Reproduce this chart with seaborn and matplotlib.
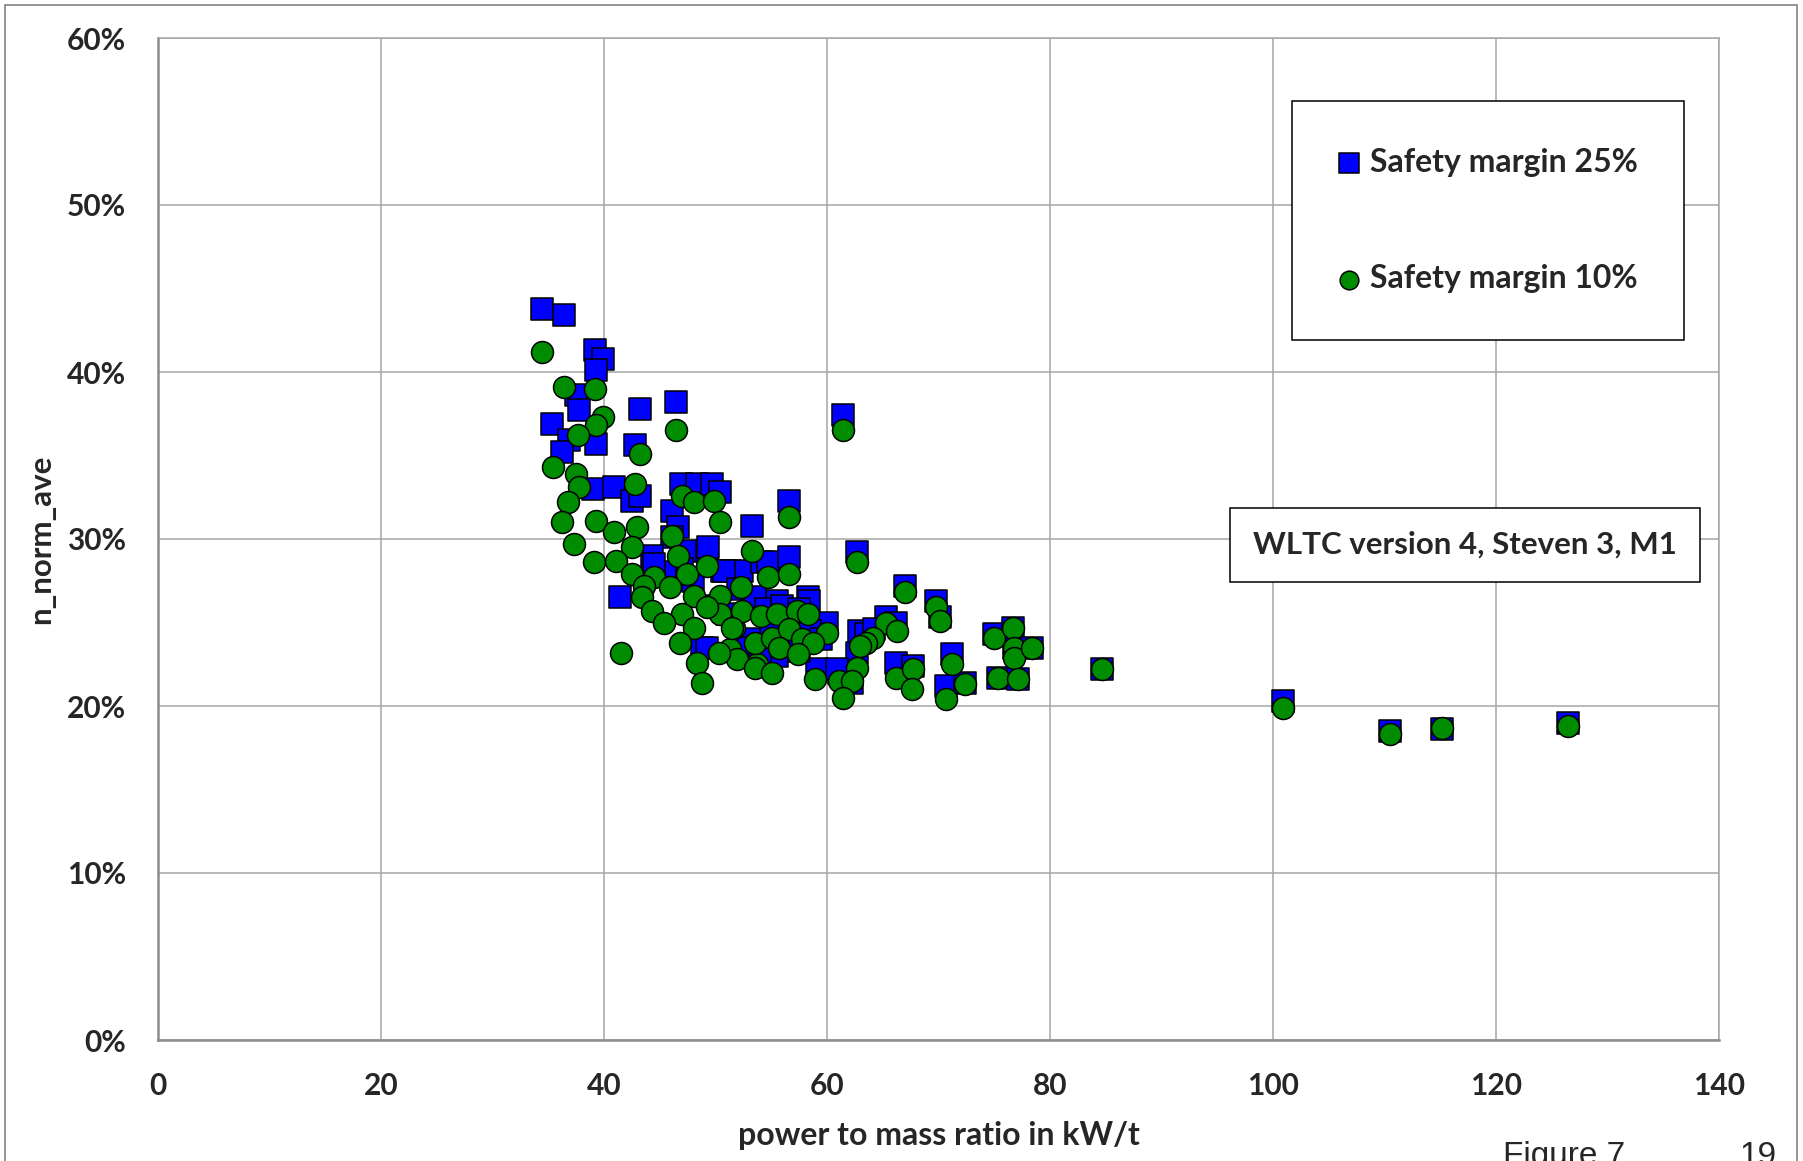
import matplotlib
matplotlib.use("Agg")
import matplotlib.pyplot as plt
import numpy as np
import pandas as pd
import seaborn as sns
from matplotlib.ticker import MultipleLocator, FuncFormatter
from matplotlib.patches import Rectangle

# ---------------- data ----------------
# Safety margin 25% (blue squares): power to mass ratio [kW/t], n_norm_ave [%]
x25 = [34.4, 36.4, 39.2, 39.9, 39.3, 37.5, 37.8, 35.3, 36.9, 36.2, 39.3, 43.2, 46.5, 42.8,
       39.0, 40.9, 42.5, 43.2, 46.9, 48.3, 49.7, 50.4, 46.1, 46.6, 53.3, 46.1, 44.3, 47.4,
       49.2, 51.3, 52.4, 41.4, 54.2, 48.8, 50.6, 56.6, 49.3, 54.7, 56.6, 50.8, 58.3, 60.0,
       55.5, 49.2, 59.1, 61.1, 61.4, 62.7, 67.0, 69.8, 70.1, 65.3, 66.2, 62.9, 58.4, 62.7,
       62.2, 60.9, 66.2, 67.7, 71.2, 70.7, 72.4, 75.0, 76.7, 76.8, 78.4, 75.3, 77.1, 84.7,
       100.9, 110.5, 115.2, 126.5,
       52.0, 53.5, 54.5, 56.0, 57.5, 55.0, 57.0, 53.0, 51.0, 48.0, 47.0, 45.5, 44.5, 50.0,
       52.5, 55.5, 57.5, 54.0, 58.5, 59.5, 63.5, 64.2]
y25 = [43.8, 43.4, 41.3, 40.8, 40.1, 38.6, 37.7, 36.9, 35.9, 35.2, 35.7, 37.8, 38.2, 35.6,
       33.0, 33.1, 32.3, 32.6, 33.3, 33.3, 33.3, 32.8, 31.7, 30.7, 30.8, 30.1, 29.0, 29.3,
       29.3, 28.1, 28.1, 26.5, 28.6, 23.5, 28.1, 32.3, 29.5, 28.6, 28.9, 28.1, 26.5, 25.0,
       26.3, 23.5, 22.2, 22.0, 37.4, 29.2, 27.2, 26.3, 25.3, 25.3, 25.0, 24.5, 26.3, 23.2,
       21.4, 22.2, 22.6, 22.4, 23.1, 21.2, 21.4, 24.3, 24.7, 23.5, 23.5, 21.7, 21.6, 22.2,
       20.3, 18.5, 18.6, 19.0,
       27.0, 26.5, 25.8, 26.0, 25.8, 24.5, 24.0, 24.0, 25.5, 27.5, 28.2, 28.0, 28.5, 26.0,
       23.5, 23.0, 23.3, 22.8, 24.5, 24.0, 24.3, 24.6]

# Safety margin 10% (green circles)
x10 = [34.4, 36.4, 39.2, 39.9, 39.3, 37.7, 43.2, 46.5, 35.4, 37.5, 37.8, 42.8, 36.8, 47.0,
       48.1, 49.9, 50.4, 39.3, 40.9, 43.0, 46.1, 42.5, 53.3, 39.1, 41.1, 46.6, 42.5, 47.4,
       49.2, 44.5, 45.9, 43.6, 43.4, 48.1, 50.4, 52.3, 44.3, 47.0, 45.4, 48.1, 50.4, 51.7,
       46.8, 48.3, 48.8, 41.5, 53.7, 51.3, 56.6, 54.7, 56.6, 49.2, 52.4, 54.1, 55.5, 57.3,
       58.3, 60.0, 51.5, 53.5, 55.1, 56.6, 57.8, 58.7, 55.7, 57.4, 51.9, 53.5, 55.1, 58.9,
       61.1, 61.4, 62.7, 67.0, 69.8, 70.1, 65.3, 66.3, 64.1, 63.5, 63.0, 62.7, 62.2, 61.4,
       66.2, 67.7, 67.6, 71.2, 70.7, 72.4, 75.0, 76.7, 76.8, 76.8, 78.4, 75.3, 77.1, 84.7,
       100.9, 110.5, 115.2, 126.5, 36.2, 37.3, 50.3]
y10 = [41.2, 39.1, 39.0, 37.3, 36.8, 36.2, 35.1, 36.5, 34.3, 33.9, 33.1, 33.3, 32.2, 32.6,
       32.2, 32.3, 31.0, 31.1, 30.4, 30.7, 30.2, 29.5, 29.3, 28.6, 28.7, 29.0, 27.9, 27.9,
       28.4, 27.7, 27.1, 27.2, 26.5, 26.6, 26.6, 27.1, 25.7, 25.5, 25.0, 24.7, 25.5, 24.7,
       23.8, 22.6, 21.4, 23.2, 22.5, 23.4, 31.3, 27.7, 27.9, 25.9, 25.7, 25.4, 25.5, 25.7,
       25.5, 24.4, 24.7, 23.8, 24.1, 24.6, 24.0, 23.8, 23.5, 23.1, 22.8, 22.3, 22.0, 21.6,
       21.5, 36.5, 28.6, 26.8, 25.9, 25.1, 25.0, 24.5, 24.1, 23.8, 23.6, 22.3, 21.5, 20.5,
       21.7, 22.2, 21.0, 22.5, 20.4, 21.3, 24.1, 24.7, 23.5, 22.9, 23.5, 21.7, 21.6, 22.2,
       19.9, 18.3, 18.7, 18.8, 31.0, 29.7, 23.2]

series_labels = ["Safety margin 25%", "Safety margin 10%"]
x_ticks = [0, 20, 40, 60, 80, 100, 120, 140]
y_ticks = [0, 10, 20, 30, 40, 50, 60]
x_title = "power to mass ratio in kW/t"
y_title = "n_norm_ave"
note_text = "WLTC version 4, Steven 3, M1"

# ---------------- style ----------------
sns.set_style("white")
plt.rcParams["font.family"] = ["Lato", "DejaVu Sans"]

W, H = 1803, 1161
fig = plt.figure(figsize=(W / 100, H / 100), dpi=100)
fig.patch.set_facecolor("white")
ax = fig.add_axes([158 / W, 1 - 1040 / H, (1719 - 158) / W, (1040 - 38) / H])

df25 = pd.DataFrame({"x": x25, "y": y25})
df10 = pd.DataFrame({"x": x10, "y": y10})

sns.scatterplot(data=df25, x="x", y="y", marker="s", s=260, color="#0000FF",
                edgecolor="black", linewidth=1.1, label=series_labels[0], ax=ax, zorder=3)
sns.scatterplot(data=df10, x="x", y="y", marker="o", s=250, color="#008C00",
                edgecolor="black", linewidth=1.1, label=series_labels[1], ax=ax, zorder=4)

ax.set_xlim(0, 140)
ax.set_ylim(0, 60)
ax.set_xticks(x_ticks)
ax.set_yticks(y_ticks)
ax.xaxis.set_minor_locator(MultipleLocator(5))
ax.yaxis.set_minor_locator(MultipleLocator(2))
ax.yaxis.set_major_formatter(FuncFormatter(lambda v, p: f"{v:.0f}%"))

ax.grid(which="major", color="#A6A6A6", linewidth=1.1)
ax.set_axisbelow(True)
for side in ["top", "right"]:
    ax.spines[side].set_color("#A6A6A6")
    ax.spines[side].set_linewidth(1.1)
for side in ["left", "bottom"]:
    ax.spines[side].set_color("#8C8C8C")
    ax.spines[side].set_linewidth(1.8)

ax.tick_params(axis="both", which="major", direction="inout", length=14, width=1.3,
               color="#8C8C8C", labelsize=21.5)
ax.tick_params(axis="both", which="minor", direction="inout", length=12, width=1.3,
               color="#8C8C8C")
ax.tick_params(axis="x", which="major", pad=16)
ax.tick_params(axis="y", which="major", pad=16)
for lab in ax.get_xticklabels() + ax.get_yticklabels():
    lab.set_fontweight("bold")

ax.set_xlabel(x_title, fontsize=23, fontweight="bold")
ax.set_ylabel(y_title, fontsize=22.5, fontweight="bold")
ax.xaxis.set_label_coords(0.5, -0.081)
ax.yaxis.set_label_coords(-0.066, 0.5)

leg = ax.legend(loc="center", bbox_to_anchor=(1488 / W, 1 - 220.5 / H),
                bbox_transform=fig.transFigure, prop=dict(weight="bold", size=23),
                frameon=True, fancybox=False, edgecolor="black", framealpha=1,
                borderpad=1.45, labelspacing=2.75, handlelength=0.7, handletextpad=0.3,
                markerscale=0.85)
leg.get_frame().set_linewidth(1.1)

fig.text(1465 / W, 1 - 545 / H, note_text, ha="center", va="center", fontsize=22.5,
         fontweight="bold",
         bbox=dict(boxstyle="square,pad=0.75", fc="white", ec="black", lw=1.1))

# outer chart frame
fig.add_artist(Rectangle((5 / W, -0.05), (1797 - 5) / W, 1.05 - 5 / H,
                         transform=fig.transFigure, fill=False, ec="#8C8C8C", lw=1.3))

fig.text(1503 / W, 1 - 1141 / H, "Figure 7", fontsize=24, family="Liberation Sans",
         va="top", ha="left")
fig.text(1740 / W, 1 - 1141 / H, "19", fontsize=24, family="Liberation Sans",
         va="top", ha="left")

fig.savefig("out.png", dpi=100)
